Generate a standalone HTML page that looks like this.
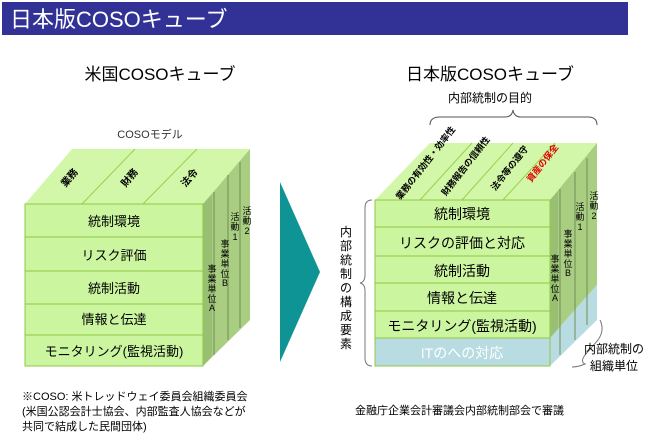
<!DOCTYPE html>
<html><head><meta charset="utf-8"><style>
body{margin:0;width:650px;height:443px;background:#fff;overflow:hidden}
svg{display:block}
text{font-family:"Liberation Sans","Noto Sans CJK JP",sans-serif}
</style></head><body>
<svg width="650" height="443" viewBox="0 0 650 443">
<rect x="2" y="2" width="626" height="33" fill="#323296"/>
<text x="10" y="27" font-size="22" fill="#fff">日本版COSOキューブ</text>
<text x="160" y="80" font-size="17" text-anchor="middle" fill="#000">米国COSOキューブ</text>
<text x="490" y="80" font-size="17" text-anchor="middle" fill="#000">日本版COSOキューブ</text>
<text x="150" y="138" font-size="11" text-anchor="middle" fill="#333">COSOモデル</text>

<!-- Left cube -->
<polygon points="25,204 203,204 250,149 72,149" fill="#D2F7A8"/>
<g stroke="#9CCF50" stroke-width="1"><line x1="82" y1="204" x2="135" y2="149"/><line x1="143" y1="204" x2="197" y2="149"/></g>
<polygon points="203,204 250,149 250,320 203,366" fill="#A9CE82"/>
<polygon points="203,204 212,194 212,356 203,366" fill="#98BF72"/>
<g stroke="#6F8F55" stroke-width="1"><line x1="214" y1="192" x2="214" y2="355"/><line x1="228" y1="175" x2="228" y2="340"/><line x1="240" y1="162" x2="240" y2="328"/></g>
<g font-size="10" font-weight="bold" fill="#000" text-anchor="middle">
<text transform="translate(72,180) rotate(-50)">業務</text>
<text transform="translate(132,180) rotate(-50)">財務</text>
<text transform="translate(192,180) rotate(-50)">法令</text>
</g>
<g font-size="9" fill="#000" text-anchor="middle">
<text x="212" y="272">事</text><text x="212" y="282">業</text><text x="212" y="292">単</text><text x="212" y="302">位</text><text x="212" y="311">A</text>
<text x="225" y="247">事</text><text x="225" y="257">業</text><text x="225" y="267">単</text><text x="225" y="277">位</text><text x="225" y="286">B</text>
<text x="235" y="220">活</text><text x="235" y="230">動</text><text x="235" y="240">1</text>
<text x="247" y="214">活</text><text x="247" y="224">動</text><text x="247" y="234">2</text>
</g>
<g fill="#CCF5A0" stroke="#8FC844" stroke-width="1">
<rect x="25" y="204" width="178" height="33"/><rect x="25" y="237" width="178" height="34"/><rect x="25" y="271" width="178" height="33"/><rect x="25" y="304" width="178" height="31"/><rect x="25" y="335" width="178" height="31"/>
</g>
<g font-size="13" text-anchor="middle" fill="#000">
<text x="114" y="226">統制環境</text><text x="114" y="260">リスク評価</text><text x="114" y="293">統制活動</text><text x="114" y="324">情報と伝達</text><text x="114" y="356">モニタリング(監視活動)</text>
</g>

<!-- arrow -->
<polygon points="280,182 320,272 280,362" fill="#0E9494"/>

<!-- Right cube -->
<text x="490" y="102" font-size="12" text-anchor="middle" fill="#000">内部統制の目的</text>
<path d="M430,125 Q430,117 440,117 L505,117 Q512,117 513,110 Q514,117 521,117 L588,117 Q597,117 597,125" fill="none" stroke="#555"/>
<polygon points="375,200 550,200 597,143 430,143" fill="#D2F7A8"/>
<g stroke="#9CCF50"><line x1="420" y1="200" x2="472" y2="143"/><line x1="462" y1="200" x2="513" y2="143"/><line x1="503" y1="200" x2="555" y2="143"/></g>
<polygon points="550,200 597,143 597,285 550,338" fill="#A9CE82"/>
<polygon points="550,338 597,285 597,320 550,366" fill="#B8DCE2"/>
<polygon points="550,200 558,191 558,329 550,338" fill="#98BF72"/>
<g stroke="#6F8F55"><line x1="560" y1="189" x2="560" y2="355"/><line x1="575" y1="172" x2="575" y2="340"/><line x1="587" y1="158" x2="587" y2="325"/></g>
<g font-size="9" font-weight="bold" text-anchor="middle">
<text transform="translate(428,165) rotate(-52)">業務の有効性・効率性</text>
<text transform="translate(468,168) rotate(-52)">財務報告の信頼性</text>
<text transform="translate(512,170) rotate(-52)">法令等の遵守</text>
<text transform="translate(545,165) rotate(-52)" fill="#E00000">資産の保全</text>
</g>
<g font-size="9" fill="#000" text-anchor="middle">
<text x="555" y="262">事</text><text x="555" y="272">業</text><text x="555" y="282">単</text><text x="555" y="292">位</text><text x="555" y="301">A</text>
<text x="568" y="237">事</text><text x="568" y="247">業</text><text x="568" y="257">単</text><text x="568" y="267">位</text><text x="568" y="276">B</text>
<text x="580" y="210">活</text><text x="580" y="220">動</text><text x="580" y="230">1</text>
<text x="594" y="199">活</text><text x="594" y="209">動</text><text x="594" y="219">2</text>
</g>
<g fill="#CCF5A0" stroke="#8FC844">
<rect x="375" y="200" width="175" height="27"/><rect x="375" y="227" width="175" height="29"/><rect x="375" y="256" width="175" height="27"/><rect x="375" y="283" width="175" height="28"/><rect x="375" y="311" width="175" height="27"/>
<rect x="375" y="338" width="175" height="28" fill="#B8DCE2"/>
</g>
<g font-size="14" text-anchor="middle" fill="#000">
<text x="462" y="219">統制環境</text><text x="462" y="248">リスクの評価と対応</text><text x="462" y="276">統制活動</text><text x="462" y="303">情報と伝達</text><text x="462" y="331">モニタリング(監視活動)</text>
<text x="462" y="358" fill="#fff">ITのへの対応</text>
</g>
<path d="M372,200 Q365,200 365,208 L365,275 Q365,282 360,283 Q365,284 365,291 L365,358 Q365,366 372,366" fill="none" stroke="#777"/>
<g font-size="12" text-anchor="middle" fill="#000">
<text x="346" y="236">内</text><text x="346" y="250">部</text><text x="346" y="264">統</text><text x="346" y="278">制</text><text x="346" y="292">の</text><text x="346" y="306">構</text><text x="346" y="320">成</text><text x="346" y="334">要</text><text x="346" y="348">素</text>
</g>
<path d="M600,320 Q605,330 598,340 L585,355 Q580,362 585,364 Q578,367 572,367" fill="none" stroke="#777"/>
<text x="614" y="353" font-size="12" text-anchor="middle">内部統制の</text>
<text x="614" y="370" font-size="12" text-anchor="middle">組織単位</text>
<text x="355" y="414" font-size="11">金融庁企業会計審議会内部統制部会で審議</text>
<g font-size="11" fill="#000">
<text x="22" y="400">※COSO:  米トレッドウェイ委員会組織委員会</text>
<text x="22" y="415">(米国公認会計士協会、内部監査人協会などが</text>
<text x="22" y="430">共同で結成した民間団体)</text>
</g>
</svg>
</body></html>
